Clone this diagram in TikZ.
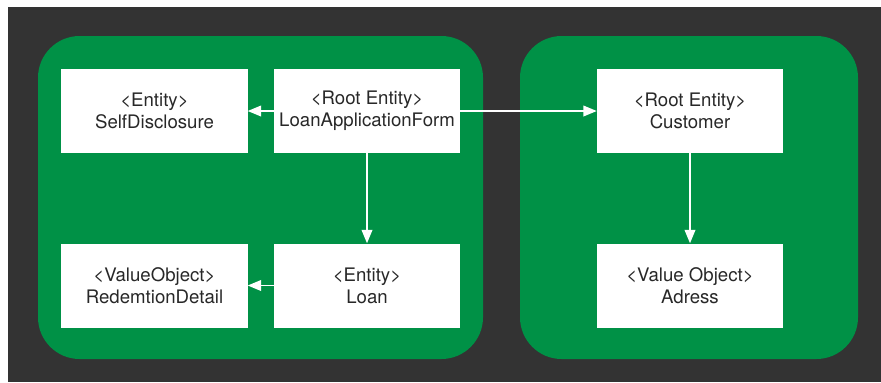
\documentclass[tikz,border=0pt]{standalone}
\usepackage{fontspec}
\setmainfont{TeX Gyre Heros}
\usetikzlibrary{arrows.meta}
\definecolor{bgdark}{RGB}{51,51,51}
\definecolor{aggreen}{RGB}{0,145,70}
\definecolor{txtgrey}{RGB}{40,40,40}
\begin{document}
\begin{tikzpicture}[x=0.03cm, y=-0.03cm,
    box/.style={rectangle, fill=white, minimum width=5.58cm, minimum height=2.52cm,
        align=center, text=txtgrey, font=\fontsize{15.9}{19}\selectfont, inner sep=0pt},
    link/.style={draw=white, line width=1.2pt, -{Triangle[length=0.4cm, width=0.32cm]}}]
    \useasboundingbox (0, 0) rectangle (881, 382);
    \fill[white] (0, 0) rectangle (881, 382);
    \fill[bgdark] (8, 7) rectangle (881, 382);

    % Aggregates
    \fill[aggreen, rounded corners=1.25cm] (38, 36) rectangle (483, 359);
    \fill[aggreen, rounded corners=1.25cm] (520, 36) rectangle (858, 359);

    \node[box] (sd) at (154.5, 111) {<Entity>\\SelfDisclosure};
    \node[box] (laf) at (367, 111) {<Root Entity>\\LoanApplicationForm};
    \node[box] (cust) at (690, 111) {<Root Entity>\\Customer};
    \node[box] (rd) at (154.5, 285.5) {<ValueObject>\\RedemtionDetail};
    \node[box] (loan) at (367, 285.5) {<Entity>\\Loan};
    \node[box] (adr) at (690, 285.5) {<Value Object>\\Adress};

    % Draw the references between nodes
    \draw[link] (laf) -- (sd);
    \draw[link] (laf) -- (cust);
    \draw[link] (laf) -- (loan);
    \draw[link] (loan) -- (rd);
    \draw[link] (cust) -- (adr);
\end{tikzpicture}
\end{document}
